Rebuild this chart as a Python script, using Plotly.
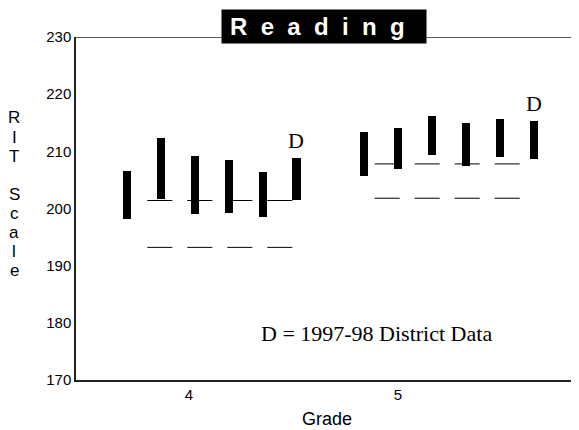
import plotly.graph_objects as go

# ---------------- data ----------------
grades = ["4", "5"]
g4_high = [206.6, 212.4, 209.1, 208.5, 206.4, 208.9]
g4_low = [198.2, 201.7, 199.0, 199.2, 198.6, 201.5]
g5_high = [213.4, 214.0, 216.2, 215.0, 215.6, 215.3]
g5_low = [205.7, 206.9, 209.4, 207.5, 209.0, 208.7]
upper_norm = [201.4, 207.8]
lower_norm = [193.2, 201.8]
y_ticks = [170, 180, 190, 200, 210, 220, 230]
district_mark = "D"
legend_text = "D = 1997-98 District Data"
title_text = "Reading"
y_title = "RIT Scale"
x_title = "Grade"

# ---------------- layout constants ----------------
GROUP_GAP = 7
BAR_W = 0.24
DASH_START = 0.968
DASH_STEP = 1.18
DASH_GROUP = 6.707
DASH_HALF = 0.37
N_DASH = 4
TICK_POS = [1.83, 7.99]
SERIF = "Liberation Serif, Times New Roman, serif"
SANS = "Liberation Sans, Arial, sans-serif"
FIG_W, FIG_H = 579, 430
M_L, M_R, M_T, M_B = 68, 9, 29, 58
PLOT_H = FIG_H - M_T - M_B          # 343
PLOT_W = FIG_W - M_L - M_R          # 502
PX_PER_SLOT = 33.9
X_MIN = -1.504
YT_FIRST = 118 - 8 - M_T            # page px -> plot px from top
YT_PITCH = 19

highs = [g4_high, g5_high]
lows = [g4_low, g5_low]

fig = go.Figure()

# range bars
bx, by, bb = [], [], []
for g in range(len(grades)):
    for i, (h, l) in enumerate(zip(highs[g], lows[g])):
        bx.append(g * GROUP_GAP + i)
        by.append(h - l)
        bb.append(l)
fig.add_trace(go.Bar(x=bx, y=by, base=bb, width=BAR_W,
                     marker=dict(color="black", line=dict(width=0)),
                     hoverinfo="skip", showlegend=False))

# norm dashes
for norms in (upper_norm, lower_norm):
    dx, dy = [], []
    for g in range(len(grades)):
        for j in range(N_DASH):
            c = DASH_START + g * DASH_GROUP + j * DASH_STEP
            dx += [c - DASH_HALF, c + DASH_HALF, None]
            dy += [norms[g], norms[g], None]
    fig.add_trace(go.Scatter(x=dx, y=dy, mode="lines",
                             line=dict(color="black", width=1),
                             hoverinfo="skip", showlegend=False))

annotations = []
# district "D" markers above the last bar of each grade
for g in range(len(grades)):
    annotations.append(dict(
        text=district_mark, xref="x", yref="y",
        x=g * GROUP_GAP + len(highs[g]) - 1, y=highs[g][-1],
        xanchor="center", yanchor="bottom", yshift=3, showarrow=False,
        font=dict(family=SERIF, size=22, color="black")))
# title box
spaced = "\u00a0\u00a0".join(list(title_text)) + "\u00a0\u00a0"
annotations.append(dict(
    text="<b>" + spaced + "</b>", xref="x", yref="paper",
    x=5.80, y=1 + 10.5 / PLOT_H, xanchor="center", yanchor="middle",
    showarrow=False, bgcolor="black", width=204, height=33, borderpad=0,
    font=dict(family=SANS, size=24, color="white")))
# legend note
annotations.append(dict(
    text=legend_text, xref="x", yref="y", x=7.36, y=178.2,
    xanchor="center", yanchor="middle", showarrow=False,
    font=dict(family=SERIF, size=22, color="black")))
# stacked y title
for k, ch in enumerate(y_title):
    if ch == " ":
        continue
    annotations.append(dict(
        text=ch, xref="paper", yref="paper", x=(6 - M_L) / PLOT_W,
        y=1 - (YT_FIRST + k * YT_PITCH) / PLOT_H,
        xanchor="center", yanchor="middle", showarrow=False,
        font=dict(family=SANS, size=17, color="black")))

fig.update_layout(
    width=FIG_W, height=FIG_H,
    margin=dict(l=M_L, r=M_R, t=M_T, b=M_B, autoexpand=False),
    plot_bgcolor="white", paper_bgcolor="white",
    bargap=0,
    xaxis=dict(range=[X_MIN, X_MIN + PLOT_W / PX_PER_SLOT],
               tickvals=TICK_POS, ticktext=grades, automargin=False,
               showgrid=False, zeroline=False, showline=True,
               linecolor="#222", linewidth=1.5, ticks="",
               tickfont=dict(family=SANS, size=15, color="black"),
               title=dict(text=x_title, standoff=11,
                          font=dict(family=SANS, size=18, color="black"))),
    yaxis=dict(range=[170, 230], tickvals=y_ticks, showgrid=False,
               automargin=False,
               zeroline=False, showline=True, linecolor="#222", linewidth=1.5,
               ticks="", tickfont=dict(family=SANS, size=15, color="black")),
    shapes=[dict(type="line", xref="paper", yref="y", x0=0, x1=1,
                 y0=230, y1=230, line=dict(color="#222", width=1.5))],
    annotations=annotations,
)

fig.write_html("out.html")
